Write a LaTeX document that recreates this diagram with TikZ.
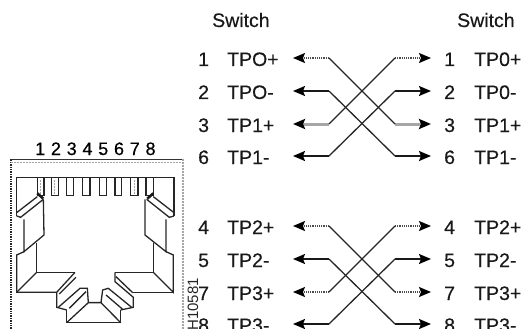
\documentclass[tikz,border=0pt]{standalone}
\usepackage{fontspec}
\setmainfont{Liberation Sans}
\newfontfamily\lblfont[FakeBold=0.3]{Liberation Sans}
\newfontfamily\jackdigits[LetterSpace=32,FakeBold=0.4]{Liberation Sans}
\usetikzlibrary{arrows.meta}
\tikzset{
  lbl/.style={inner sep=0pt,anchor=base west,font=\lblfont\fontsize{19.5}{19.5}\selectfont,text=black!90},
  wire/.style={line width=1.3pt,black!85},
  headtip/.style={-{Stealth[length=12pt,width=10pt,inset=2pt,black]}},
  endsolid/.style={headtip,line width=1.6pt,black!90},
  endthin/.style={headtip,line width=1.2pt,black!70,densely dotted},
  endgray/.style={headtip,line width=3pt,black!35},
  jack/.style={line width=1.3pt,black!85,line join=miter},
  edgeblack/.style={line width=1.4pt,black!85,densely dotted},
  edgegray/.style={line width=2pt,black!35,densely dotted},
}
\begin{document}
\begin{tikzpicture}[x=1pt,y=-1pt]
\path[use as bounding box] (0,0) rectangle (522,329);
\clip (0,0) rectangle (522,329);
% headers
\node[lbl] (hl) at (212,27) {Switch};
\node[lbl] (hr) at (457,27) {Switch};
% rows
\foreach \nm/\y/\n/\ltxt/\rtxt in {a/58/1/TPO+/TP0+,b/91/2/TPO-/TP0-,c/124/3/TP1+/TP1+,d/156/6/TP1-/TP1-,e/226/4/TP2+/TP2+,f/259/5/TP2-/TP2-,g/292/7/TP3+/TP3+,h/324/8/TP3-/TP3-}{
  \node[lbl] (ln\nm) at (198,\y+8) {\n};
  \node[lbl] (lt\nm) at (227,\y+8) {\ltxt};
  \node[lbl] (rn\nm) at (444,\y+8) {\n};
  \node[lbl] (rt\nm) at (474,\y+8) {\rtxt};
  \coordinate (lt-\nm) at (293,\y);
  \coordinate (lb-\nm) at (329,\y);
  \coordinate (rb-\nm) at (395,\y);
  \coordinate (rt-\nm) at (431,\y);
}
% left and right horizontal stubs
\foreach \nm/\st in {a/endthin,b/endsolid,c/endgray,d/endsolid,e/endthin,f/endsolid,g/endthin,h/endsolid}{
  \draw[\st] (lb-\nm) -- (lt-\nm);
  \draw[\st] (rb-\nm) -- (rt-\nm);
}
% crossings
\foreach \p/\q in {a/c,b/d,c/a,d/b,e/g,f/h,g/e,h/f}{
  \draw[wire] (lb-\p) -- (rb-\q);
}
% jack
\node[inner sep=0pt,anchor=base west,font=\jackdigits\fontsize{18}{18}\selectfont,text=black] (digits) at (35,155) {12345678};
\node[inner sep=0pt,anchor=base east,rotate=90,font=\fontsize{15}{15}\selectfont,text=black!85] (code) at (198,278) {H10581};
\begin{scope}[shift={(0,100)},x=.3333pt,y=-.3333pt]
\draw[line width=1.4pt,black!80] (33,178) -- (548,178);
\draw[edgeblack] (33,178) -- (33,690);
\draw[edgegray] (548,178) -- (548,690);
\draw[edgegray,line width=.8pt] (33,187) -- (548,187);
% inner top
\draw[jack] (50,348) -- (50,232) -- (522,232) -- (522,348);
% teeth
\foreach \a/\b in {112/132,155/175,200/220,248/270,298/320,345/365,392/414,438/460}{
  \draw[jack] (\a,232) -- (\a,287) -- (\b,287) -- (\b,232);
}
\draw[edgegray,line width=1pt] (122,240) -- (122,282);
\draw[edgegray,line width=1pt] (165,240) -- (165,282);
\draw[edgegray,line width=1pt] (403,240) -- (403,282);
\draw[line width=2.6pt,black!90] (112,280) -- (130,296);
\draw[line width=2.6pt,black!90] (460,280) -- (442,296);
% left pocket
\draw[jack] (50,348) -- (62,352) -- (130,298);
\draw[jack] (50,338) -- (112,290);
% left latch
\draw[jack] (130,298) -- (132,405) -- (72,455) -- (72,358);
% left lower
\draw[jack] (110,430) -- (110,517) -- (225,517);
\draw[jack] (72,455) -- (50,465) -- (50,577) -- (170,577);
\draw[jack] (110,517) -- (50,577);
% left bars
\draw[jack] (225,517) -- (170,577) -- (170,622) -- (200,630);
\draw[jack] (228,532) -- (178,582);
\draw[jack] (175,622) -- (240,565) -- (262,565) -- (265,608);
\draw[jack] (208,625) -- (258,575);
\draw[jack] (200,630) -- (200,668) -- (362,668) -- (362,630);
\draw[jack] (200,668) -- (265,608) -- (303,608) -- (362,668);
% right bars
\draw[jack] (345,517) -- (345,545) -- (400,592) -- (400,622) -- (362,630);
\draw[jack] (348,530) -- (398,578);
\draw[jack] (303,608) -- (308,570) -- (325,565) -- (395,622);
\draw[jack] (318,585) -- (368,628);
% right lower
\draw[jack] (345,517) -- (460,517) -- (460,430);
\draw[jack] (460,517) -- (520,577) -- (520,465) -- (498,455);
\draw[jack] (520,577) -- (400,577);
% right latch
\draw[jack] (498,358) -- (498,455) -- (435,405) -- (435,298);
% right pocket
\draw[jack] (522,348) -- (508,352) -- (440,298);
\draw[jack] (522,338) -- (460,290);
\end{scope}
\end{tikzpicture}
\end{document}
